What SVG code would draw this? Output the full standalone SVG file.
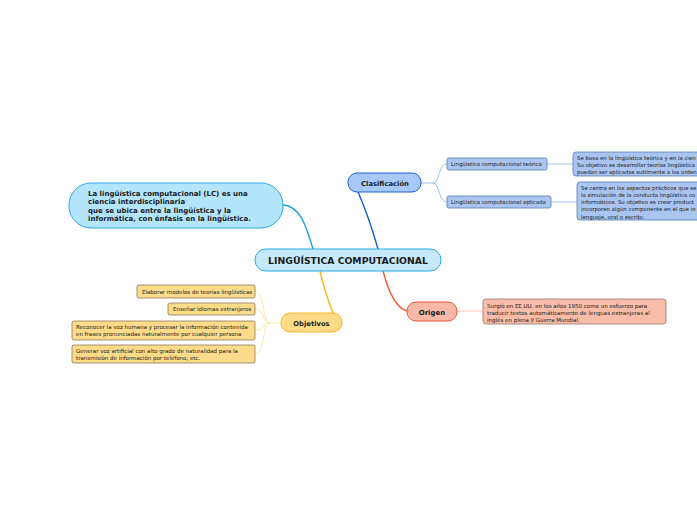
<svg xmlns="http://www.w3.org/2000/svg" width="697" height="520" viewBox="0 0 697 520">
<style>
text{font-family:"DejaVu Sans","Verdana",sans-serif;fill:#1a1a1a}
.b{font-weight:bold}
.t{font-size:5.4px}
.s{font-size:5.5px}
</style>
<rect width="697" height="520" fill="#ffffff"/>
<g id="connectors" fill="none">
  <path d="M283,205 C300,206 306,225 313,249" stroke="#1ba1e2" stroke-width="1.4"/>
  <path d="M378,249 C372,228 366,210 358,192" stroke="#1060d0" stroke-width="1.4"/>
  <path d="M383,271 C388,290 395,308 407,311" stroke="#f05a28" stroke-width="1.4"/>
  <path d="M320,271 C324,290 328,300 333,313" stroke="#f9b520" stroke-width="1.4"/>
  <path d="M421,183 L433,183 C440,183 438,164 447,164" stroke="#93b8ec" stroke-width="0.9"/>
  <path d="M433,183 C440,183 438,202 447,202" stroke="#93b8ec" stroke-width="0.9"/>
  <path d="M547,164 L573,164" stroke="#93b8ec" stroke-width="0.9"/>
  <path d="M551,202 L577,202" stroke="#93b8ec" stroke-width="0.9"/>
  <path d="M457,311 L483,311" stroke="#f8c0b0" stroke-width="0.9"/>
  <path d="M281,323 L270,323 C262,323 265,291 255,291" stroke="#fde3a0" stroke-width="0.9"/>
  <path d="M270,323 C262,323 265,309 255,309" stroke="#fde3a0" stroke-width="0.9"/>
  <path d="M270,323 C262,323 265,330 255,330" stroke="#fde3a0" stroke-width="0.9"/>
  <path d="M270,323 C262,323 265,354 255,354" stroke="#fde3a0" stroke-width="0.9"/>
</g>
<g id="central">
  <rect x="255" y="249" width="186" height="22" rx="11" fill="#c6eafb" stroke="#27a9e1" stroke-width="1"/>
  <text x="348" y="264.2" text-anchor="middle" class="b" font-size="9.3">LINGÜÍSTICA COMPUTACIONAL</text>
</g>
<g id="lc">
  <rect x="69" y="183" width="214" height="45" rx="22" fill="#b3e5fc" stroke="#27a9e1" stroke-width="1"/>
  <text class="b" font-size="7"><tspan x="88" y="195.5">La lingüística computacional (LC) es una</tspan><tspan x="88" y="204">ciencia interdisciplinaria</tspan><tspan x="88" y="212.5">que se ubica entre la lingüística y la</tspan><tspan x="88" y="221">informática, con énfasis en la lingüística.</tspan></text>
</g>
<g id="clasificacion">
  <rect x="348" y="173" width="73" height="19" rx="9" fill="#a6c9f7" stroke="#1f5fd1" stroke-width="1"/>
  <text x="385" y="185.5" text-anchor="middle" class="b" font-size="6.8">Clasificación</text>
</g>
<g id="teorica">
  <rect x="447" y="158" width="100" height="12" rx="2" fill="#a9c5f0" stroke="#5a7bab" stroke-width="0.8"/>
  <text x="451" y="166" class="t">Lingüística computacional teórica</text>
</g>
<g id="aplicada">
  <rect x="447" y="196" width="104" height="12" rx="2" fill="#a9c5f0" stroke="#5a7bab" stroke-width="0.8"/>
  <text x="451" y="204" class="t">Lingüística computacional aplicada</text>
</g>
<g id="teorica-desc">
  <rect x="573" y="152" width="140" height="24" rx="3" fill="#a9c5f0" stroke="#5a7bab" stroke-width="0.8"/>
  <text class="t"><tspan x="577" y="160">Se basa en la lingüística teórica y en la cien</tspan><tspan x="577" y="167">Su objetivo es desarrollar teorías lingüística</tspan><tspan x="577" y="174">puedan ser aplicadas sutilmente a los orden</tspan></text>
</g>
<g id="aplicada-desc">
  <rect x="577" y="182" width="140" height="38" rx="3" fill="#a9c5f0" stroke="#5a7bab" stroke-width="0.8"/>
  <text class="t"><tspan x="581" y="189.5">Se centra en los aspectos prácticos que se</tspan><tspan x="581" y="196.8">la simulación de la conducta lingüística co</tspan><tspan x="581" y="204.1">informáticos. Su objetivo es crear product</tspan><tspan x="581" y="211.4">incorporen algún componente en el que in</tspan><tspan x="581" y="218.7">lenguaje, oral o escrito.</tspan></text>
</g>
<g id="origen">
  <rect x="407" y="302" width="50" height="19" rx="9" fill="#f9b9a6" stroke="#e8553b" stroke-width="1"/>
  <text x="432" y="314.5" text-anchor="middle" class="b" font-size="7">Origen</text>
</g>
<g id="origen-desc">
  <rect x="483" y="299" width="183" height="25" rx="3" fill="#f8bca8" stroke="#8d7a74" stroke-width="0.8"/>
  <text class="s"><tspan x="487" y="308">Surgió en EE.UU. en los años 1950 como un esfuerzo para</tspan><tspan x="487" y="315">traducir textos automáticamente de lenguas extranjeras al</tspan><tspan x="487" y="322">inglés en plena II Guerra Mundial.</tspan></text>
</g>
<g id="objetivos">
  <rect x="281" y="313" width="61" height="19" rx="9" fill="#fddb86" stroke="#f7b82a" stroke-width="1"/>
  <text x="311.5" y="325.5" text-anchor="middle" class="b" font-size="6.8">Objetivos</text>
</g>
<g id="obj1">
  <rect x="137" y="285" width="118" height="13" rx="2" fill="#fcdb8a" stroke="#8d7a55" stroke-width="0.8"/>
  <text x="142" y="293.5" class="s">Elaborar modelos de teorías lingüísticas</text>
</g>
<g id="obj2">
  <rect x="168" y="303" width="87" height="12" rx="2" fill="#fcdb8a" stroke="#8d7a55" stroke-width="0.8"/>
  <text x="173" y="311" class="s">Enseñar idiomas extranjeros</text>
</g>
<g id="obj3">
  <rect x="72" y="321" width="183" height="19" rx="2" fill="#fcdb8a" stroke="#8d7a55" stroke-width="0.8"/>
  <text class="s"><tspan x="76" y="329">Reconocer la voz humana y procesar la información contenida</tspan><tspan x="76" y="336">en frases pronunciadas naturalmente por cualquier persona</tspan></text>
</g>
<g id="obj4">
  <rect x="72" y="345" width="183" height="18" rx="2" fill="#fcdb8a" stroke="#8d7a55" stroke-width="0.8"/>
  <text class="s"><tspan x="76" y="353">Generar voz artificial con alto grado de naturalidad para la</tspan><tspan x="76" y="360">transmisión de información por teléfono, etc.</tspan></text>
</g>
</svg>
